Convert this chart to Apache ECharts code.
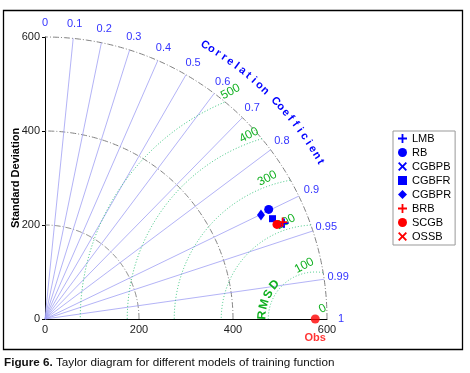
<!DOCTYPE html>
<html>
<head>
<meta charset="utf-8">
<script src="https://cdn.jsdelivr.net/npm/echarts@6/dist/echarts.min.js"></script>
<style>
  html, body { margin: 0; padding: 0; background: #fff; }
  #chart { width: 470px; height: 373px; }
</style>
</head>
<body>
<div id="chart"></div>
<script>
// model statistics
const models = ['LMB', 'RB', 'CGBPB', 'CGBFR', 'CGBPR', 'BRB', 'SCGB', 'OSSB'];
const modelStd = [548, 530, 542, 529, 510, 546, 533, 537];
const modelCorr = [0.928, 0.898, 0.930, 0.915, 0.901, 0.926, 0.926, 0.927];
const obsStd = 575;

// reference lines / tick labels
const axisTicks = [0, 200, 400, 600];
const stdArcs = [200, 400, 600];
const corrTicks = [0, 0.1, 0.2, 0.3, 0.4, 0.5, 0.6, 0.7, 0.8, 0.9, 0.95, 0.99, 1];
const rmsTicks = [0, 100, 200, 300, 400, 500];
const corrTitle = 'Correlation Coefficient';
const rmsTitle = 'RMSD';

const FONT = '"Liberation Sans", Arial, sans-serif';
const BLUE = '#0000ff';
const RED = '#ff0000';
const PLUS = 'path://M4,0h2v4h4v2h-4v4h-2v-4h-4v-2h4z';
const CROSS = 'path://M0,1.5L1.5,0L5,3.5L8.5,0L10,1.5L6.5,5L10,8.5L8.5,10L5,6.5L1.5,10L0,8.5L3.5,5Z';

const markerStyle = [
  { symbol: PLUS, size: 9, color: BLUE },
  { symbol: 'circle', size: 9, color: BLUE },
  { symbol: CROSS, size: 6, color: BLUE },
  { symbol: 'rect', size: 7, color: BLUE },
  { symbol: 'diamond', size: [8, 11], color: BLUE },
  { symbol: PLUS, size: 9, color: RED },
  { symbol: 'circle', size: 9, color: RED },
  { symbol: CROSS, size: 6, color: RED },
];

const polar = (s, r) => [s * r, s * Math.sqrt(Math.max(0, 1 - r * r))];
const deg = Math.PI / 180;

const chart = echarts.init(document.getElementById('chart'));

const series = [];

// standard deviation arcs
series.push({
  type: 'custom', silent: true, clip: false, z: 1,
  data: stdArcs.map((v) => [v, 0]),
  renderItem: (params, api) => {
    const s = api.value(0);
    const pts = [];
    for (let i = 0; i <= 180; i++) {
      const a = i * 0.5 * deg;
      pts.push(api.coord([s * Math.cos(a), s * Math.sin(a)]));
    }
    return {
      type: 'polyline',
      shape: { points: pts },
      style: { fill: null, stroke: '#808080', lineWidth: 1, lineDash: [6, 2, 1, 2] },
    };
  },
});

// correlation rays
series.push({
  type: 'custom', silent: true, clip: false, z: 1,
  data: corrTicks.filter((r) => r > 0 && r < 1).map((r) => [r, 0]),
  renderItem: (params, api) => {
    const r = api.value(0);
    const p0 = api.coord([0, 0]);
    const p1 = api.coord(polar(600, r));
    return {
      type: 'line',
      shape: { x1: p0[0], y1: p0[1], x2: p1[0], y2: p1[1] },
      style: { stroke: '#a0a0f4', lineWidth: 0.8 },
    };
  },
});

// correlation labels
series.push({
  type: 'custom', silent: true, clip: false, z: 3,
  data: corrTicks.map((r) => [r, 0]),
  renderItem: (params, api) => {
    const r = api.value(0);
    const p = api.coord(polar(630, r));
    return {
      type: 'text', x: p[0], y: p[1],
      style: { text: String(r), fill: '#3434ff', font: '11px ' + FONT, align: 'center', verticalAlign: 'middle' },
    };
  },
});

// curved axis title
series.push({
  type: 'custom', silent: true, clip: false, z: 3,
  data: corrTitle.split('').map((c, i) => [i, 0]),
  renderItem: (params, api) => {
    const i = api.value(0);
    const n = corrTitle.length - 1;
    const th = (59.7 - (59.7 - 29.7) * i / n) * deg;
    const p = api.coord([675 * Math.cos(th), 675 * Math.sin(th)]);
    return {
      type: 'text', x: p[0], y: p[1], rotation: th - Math.PI / 2,
      style: { text: corrTitle[i], fill: BLUE, font: 'bold 11px ' + FONT, align: 'center', verticalAlign: 'middle' },
    };
  },
});

// RMSD contours
series.push({
  type: 'custom', silent: true, clip: false, z: 1,
  data: rmsTicks.filter((v) => v > 0).map((v) => [v, 0]),
  renderItem: (params, api) => {
    const rr = api.value(0);
    const pts = [];
    for (let i = 0; i <= 720; i++) {
      const a = i * 0.25 * deg;
      const x = obsStd + rr * Math.cos(a);
      const y = rr * Math.sin(a);
      if (x >= 0 && x * x + y * y <= 600 * 600) pts.push(api.coord([x, y]));
    }
    return {
      type: 'polyline',
      shape: { points: pts },
      style: { fill: null, stroke: '#33c27a', lineWidth: 1, lineDash: [1, 2] },
    };
  },
});

// RMSD labels, placed along a ray from (600, 0)
series.push({
  type: 'custom', silent: true, clip: false, z: 3,
  data: rmsTicks.map((v) => [v, 0]),
  renderItem: (params, api) => {
    const rr = api.value(0);
    const R = Math.max(rr + 16, 27);
    const u = [Math.cos(113 * deg), Math.sin(113 * deg)];
    const d = 600 - obsStd;
    const du = d * u[0];
    const t = -du + Math.sqrt(du * du - d * d + R * R);
    const p = api.coord([600 + t * u[0], t * u[1]]);
    return {
      type: 'text', x: p[0], y: p[1], rotation: 28 * deg,
      style: { text: String(rr), fill: '#10b020', font: '12px ' + FONT, align: 'center', verticalAlign: 'middle' },
    };
  },
});

// RMSD title along a contour
series.push({
  type: 'custom', silent: true, clip: false, z: 3,
  data: rmsTitle.split('').map((c, i) => [i, 0]),
  renderItem: (params, api) => {
    const i = api.value(0);
    const th = (176 - 12 * i) * deg;
    const p = api.coord([obsStd + 113 * Math.cos(th), 113 * Math.sin(th)]);
    return {
      type: 'text', x: p[0], y: p[1], rotation: th - Math.PI / 2,
      style: { text: rmsTitle[i], fill: '#10b020', font: 'bold 12px ' + FONT, align: 'center', verticalAlign: 'middle' },
    };
  },
});

// observation point
series.push({
  type: 'scatter', name: 'Obs', z: 5,
  data: [[obsStd, 0]],
  symbol: 'circle', symbolSize: 9,
  itemStyle: { color: RED },
  label: {
    show: true, position: 'bottom', distance: 9, formatter: 'Obs',
    color: RED, fontWeight: 'bold', fontSize: 11, fontFamily: FONT,
  },
});

// models
models.forEach((name, i) => {
  const m = markerStyle[i];
  series.push({
    type: 'scatter', name, z: 6,
    data: [polar(modelStd[i], modelCorr[i])],
    symbol: m.symbol, symbolSize: m.size,
    itemStyle: { color: m.color, opacity: 1 },
  });
});

chart.setOption({
  animation: false,
  title: {
    text: '{b|Figure 6.} Taylor diagram for different models of training function',
    left: 4, top: 357, padding: 0,
    textStyle: {
      fontSize: 11.7, fontWeight: 'normal', color: '#111', fontFamily: FONT,
      rich: { b: { fontSize: 11.7, fontWeight: 'bold', color: '#111', fontFamily: FONT } },
    },
  },
  grid: { left: 45, top: 37, width: 282, height: 282, outerBoundsMode: 'none', containLabel: false },
  legend: {
    data: models, orient: 'vertical', left: 393, top: 131,
    itemWidth: 9, itemHeight: 9, itemGap: 3,
    padding: [2, 4, 3, 5],
    borderColor: '#999', borderWidth: 1,
    selectedMode: false,
    textStyle: { fontSize: 11, color: '#000', fontFamily: FONT, lineHeight: 10 },
  },
  xAxis: {
    type: 'value', min: 0, max: 600, interval: 200,
    axisLine: { lineStyle: { color: '#000', width: 1 } },
    axisTick: { show: false },
    axisLabel: { margin: 5, color: '#222', fontSize: 11, fontFamily: FONT },
    splitLine: { show: false },
  },
  yAxis: {
    type: 'value', min: 0, max: 600, interval: 200,
    name: 'Standard Deviation', nameLocation: 'middle', nameGap: 24, nameMoveOverlap: false,
    nameTextStyle: { fontWeight: 'bold', fontSize: 11, color: '#000', fontFamily: FONT },
    axisLine: { lineStyle: { color: '#000', width: 1 } },
    axisTick: { show: true, length: 3, lineStyle: { color: '#000' } },
    axisLabel: { margin: 5, color: '#222', fontSize: 11, fontFamily: FONT },
    splitLine: { show: false },
  },
  graphic: [{
    type: 'rect', silent: true,
    shape: { x: 3.5, y: 10.5, width: 459, height: 339 },
    style: { fill: 'none', stroke: '#000', lineWidth: 1.3 },
  }],
  series,
});
</script>
</body>
</html>
